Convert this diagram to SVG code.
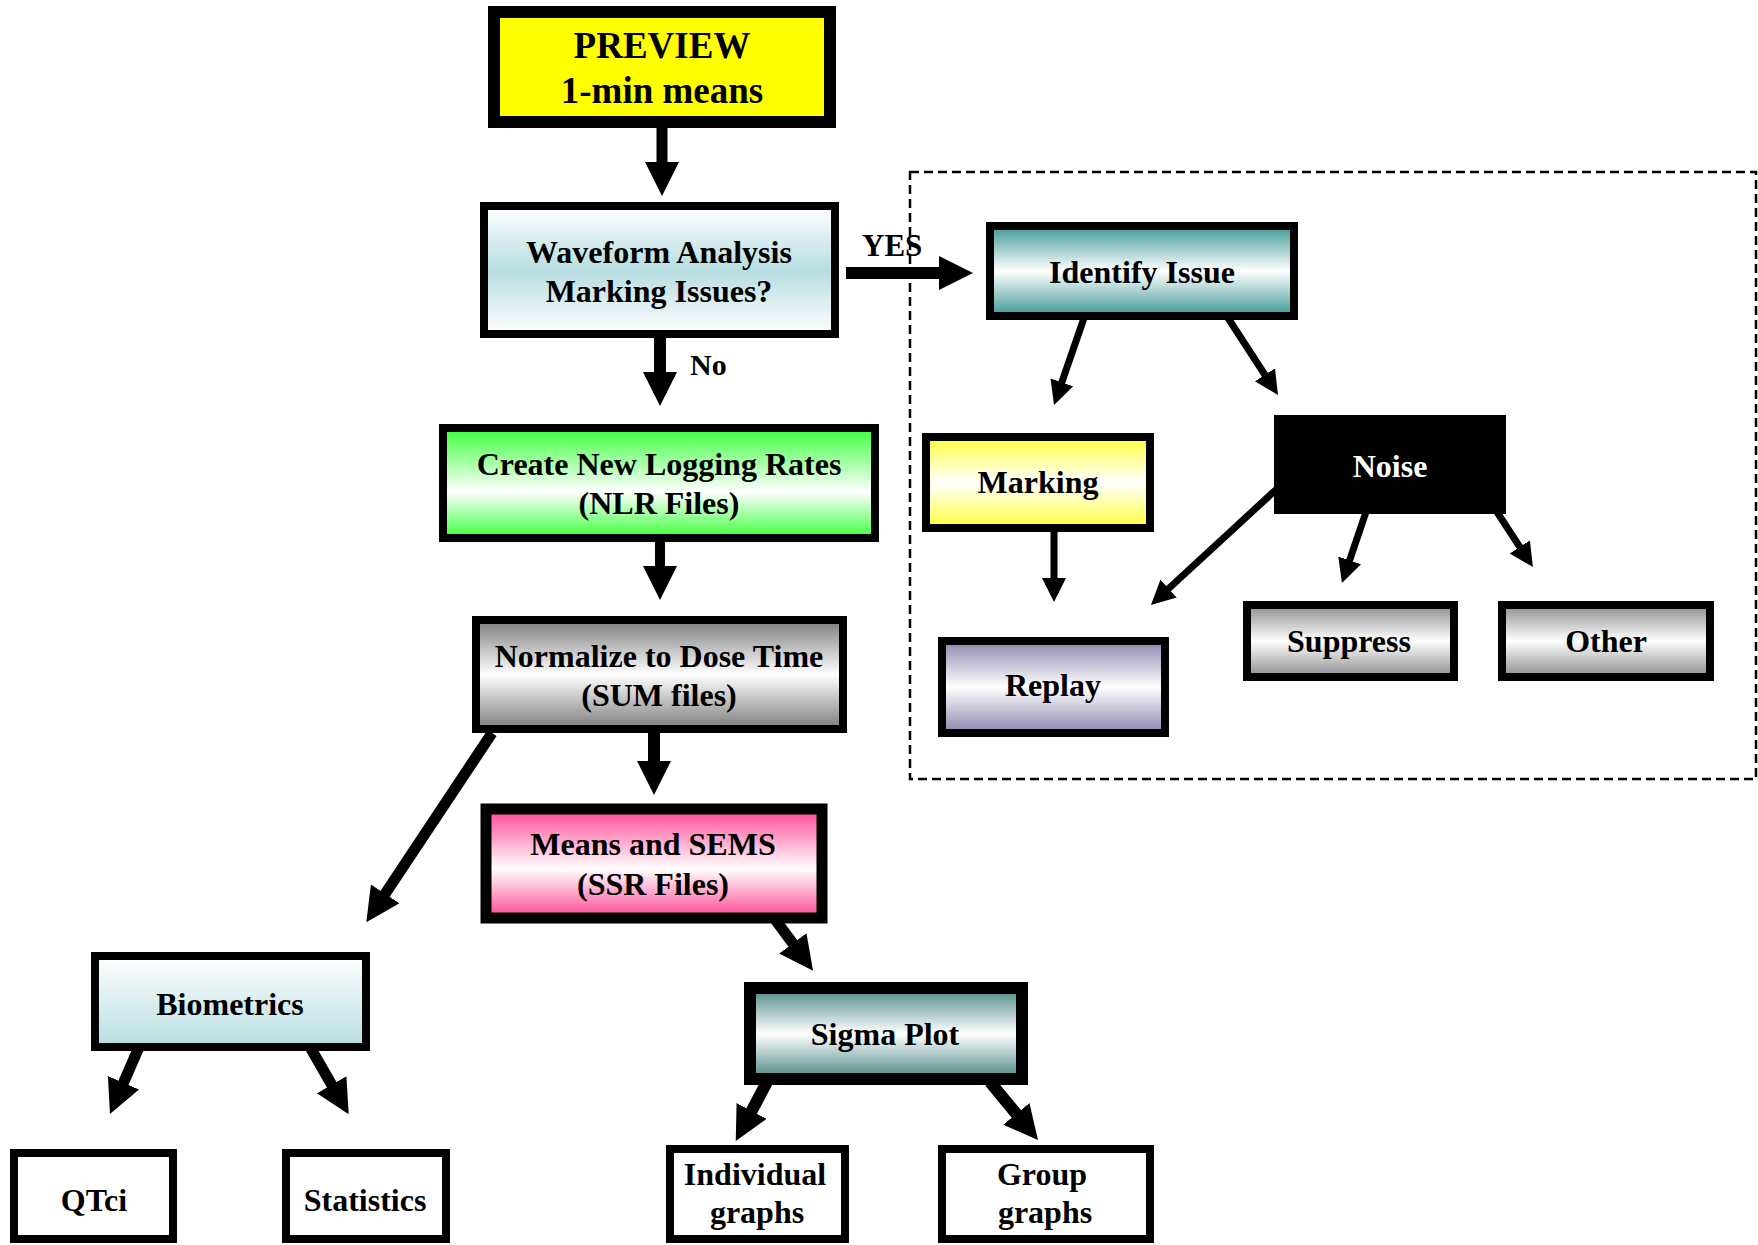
<svg xmlns="http://www.w3.org/2000/svg" width="1758" height="1245" viewBox="0 0 1758 1245">
<style>
.box{stroke:#000;stroke-width:8}
.t{font-family:"Liberation Serif","Times New Roman",serif;font-weight:bold;font-size:32px;text-anchor:middle;fill:#000}
.lbl{font-family:"Liberation Serif","Times New Roman",serif;font-weight:bold;fill:#000}
.c{stroke:#000;fill:none}
.big{stroke-width:11;marker-end:url(#hb)}
.sm{stroke-width:7;marker-end:url(#hs)}
</style>
<defs>
<marker id="hb" markerUnits="userSpaceOnUse" markerWidth="36" markerHeight="36" refX="2" refY="17" orient="auto"><path d="M0,0 L34,17 L0,34 Z" fill="#000"/></marker>
<marker id="hs" markerUnits="userSpaceOnUse" markerWidth="26" markerHeight="26" refX="2" refY="12" orient="auto"><path d="M0,0 L24,12 L0,24 Z" fill="#000"/></marker>
<linearGradient id="gWave" x1="0" y1="0" x2="0" y2="1"><stop offset="0" stop-color="#ffffff"/><stop offset="0.5" stop-color="#b7dde1"/><stop offset="1" stop-color="#ffffff"/></linearGradient>
<linearGradient id="gGreen" x1="0" y1="0" x2="0" y2="1"><stop offset="0" stop-color="#3cff3c"/><stop offset="0.58" stop-color="#ffffff"/><stop offset="1" stop-color="#3cff3c"/></linearGradient>
<linearGradient id="gGray" x1="0" y1="0" x2="0" y2="1"><stop offset="0" stop-color="#7c7c7c"/><stop offset="0.5" stop-color="#ffffff"/><stop offset="1" stop-color="#7c7c7c"/></linearGradient>
<linearGradient id="gPink" x1="0" y1="0" x2="0" y2="1"><stop offset="0" stop-color="#ff4693"/><stop offset="0.55" stop-color="#ffffff"/><stop offset="1" stop-color="#ff4693"/></linearGradient>
<linearGradient id="gBio" x1="0" y1="0" x2="0" y2="1"><stop offset="0" stop-color="#ffffff"/><stop offset="1" stop-color="#b7dde1"/></linearGradient>
<linearGradient id="gTeal" x1="0" y1="0" x2="0" y2="1"><stop offset="0" stop-color="#3d9896"/><stop offset="0.5" stop-color="#ffffff"/><stop offset="1" stop-color="#3d9896"/></linearGradient>
<linearGradient id="gSigma" x1="0" y1="0" x2="0" y2="1"><stop offset="0" stop-color="#4a8684"/><stop offset="0.5" stop-color="#ffffff"/><stop offset="1" stop-color="#4a8684"/></linearGradient>
<linearGradient id="gYel" x1="0" y1="0" x2="0" y2="1"><stop offset="0" stop-color="#ffff3c"/><stop offset="0.5" stop-color="#ffffff"/><stop offset="1" stop-color="#ffff3c"/></linearGradient>
<linearGradient id="gPurp" x1="0" y1="0" x2="0" y2="1"><stop offset="0" stop-color="#8a86ab"/><stop offset="0.5" stop-color="#ffffff"/><stop offset="1" stop-color="#8a86ab"/></linearGradient>
<linearGradient id="gSilver" x1="0" y1="0" x2="0" y2="1"><stop offset="0" stop-color="#8c8c8c"/><stop offset="0.5" stop-color="#ffffff"/><stop offset="1" stop-color="#8c8c8c"/></linearGradient>
</defs>
<rect width="1758" height="1245" fill="#fff"/>

<rect id="issue-region" x="910" y="172" width="846" height="607" fill="none" stroke="#000" stroke-width="2.5" stroke-dasharray="9,5"/>

<g id="connectors">
<line class="c big" x1="662" y1="128" x2="662" y2="164"/>
<line class="c big" x1="660" y1="338" x2="660" y2="374" style="stroke-width:12"/>
<line class="c big" x1="660" y1="542" x2="660" y2="568" style="stroke-width:10"/>
<line class="c big" x1="654" y1="733" x2="654" y2="763" style="stroke-width:12"/>
<line class="c big" x1="846" y1="273" x2="941" y2="273" style="stroke-width:12"/>
<line class="c big" x1="492" y1="733" x2="384" y2="895.5"/>
<line class="c big" x1="774" y1="918" x2="794" y2="945"/>
<line class="c big" x1="139" y1="1047" x2="122.7" y2="1084.6"/>
<line class="c big" x1="310" y1="1047" x2="332.7" y2="1086.4"/>
<line class="c big" x1="768" y1="1080" x2="750.7" y2="1112.7" style="stroke-width:12"/>
<line class="c big" x1="990" y1="1082" x2="1017.6" y2="1115.4" style="stroke-width:12"/>
<line class="c sm" x1="1084" y1="318" x2="1061.2" y2="384.2"/>
<line class="c sm" x1="1228" y1="318" x2="1266" y2="376.5"/>
<line class="c sm" x1="1054" y1="532" x2="1054" y2="580"/>
<line class="c sm" x1="1280" y1="486" x2="1167.1" y2="590"/>
<line class="c sm" x1="1366" y1="512" x2="1349" y2="562.2"/>
<line class="c sm" x1="1497" y1="512" x2="1520.9" y2="548.6"/>
<text class="lbl" x="862" y="256" font-size="31">YES</text>
<text class="lbl" x="690" y="375" font-size="30">No</text>
</g>

<g id="preview">
<rect x="494" y="12" width="336" height="110" fill="#ffff00" stroke="#000" stroke-width="12"/>
<text class="t" x="662" y="58" style="font-size:37px">PREVIEW</text>
<text class="t" x="662" y="103" style="font-size:37px">1-min means</text>
</g>

<g id="waveform">
<rect class="box" x="484" y="206" width="351" height="128" fill="url(#gWave)"/>
<text class="t" x="659" y="263">Waveform Analysis</text>
<text class="t" x="659" y="302">Marking Issues?</text>
</g>

<g id="create-nlr">
<rect class="box" x="443" y="428" width="432" height="110" fill="url(#gGreen)"/>
<text class="t" x="659" y="475">Create New Logging Rates</text>
<text class="t" x="659" y="514">(NLR Files)</text>
</g>

<g id="normalize">
<rect class="box" x="476" y="620" width="367" height="109" fill="url(#gGray)"/>
<text class="t" x="659" y="667">Normalize to Dose Time</text>
<text class="t" x="659" y="706">(SUM files)</text>
</g>

<g id="means">
<rect x="486" y="809" width="336" height="109" fill="url(#gPink)" stroke="#000" stroke-width="11"/>
<text class="t" x="653" y="855">Means and SEMS</text>
<text class="t" x="653" y="895">(SSR Files)</text>
</g>

<g id="biometrics">
<rect class="box" x="95" y="956" width="271" height="91" fill="url(#gBio)"/>
<text class="t" x="230" y="1015">Biometrics</text>
</g>

<g id="qtci">
<rect class="box" x="14" y="1153" width="159" height="86" fill="#fff"/>
<text class="t" x="94" y="1211">QTci</text>
</g>

<g id="statistics">
<rect class="box" x="286" y="1153" width="160" height="86" fill="#fff"/>
<text class="t" x="365" y="1211">Statistics</text>
</g>

<g id="sigma-plot">
<rect x="750" y="988" width="272" height="91" fill="url(#gSigma)" stroke="#000" stroke-width="12"/>
<text class="t" x="885" y="1045">Sigma Plot</text>
</g>

<g id="individual-graphs">
<rect class="box" x="670" y="1149" width="175" height="90" fill="#fff"/>
<text class="t" x="755" y="1185">Individual</text>
<text class="t" x="757" y="1223">graphs</text>
</g>

<g id="group-graphs">
<rect class="box" x="942" y="1149" width="208" height="90" fill="#fff"/>
<text class="t" x="1042" y="1185">Group</text>
<text class="t" x="1045" y="1223">graphs</text>
</g>

<g id="identify-issue">
<rect class="box" x="990" y="226" width="304" height="90" fill="url(#gTeal)"/>
<text class="t" x="1142" y="283">Identify Issue</text>
</g>

<g id="marking">
<rect class="box" x="926" y="437" width="224" height="91" fill="url(#gYel)"/>
<text class="t" x="1038" y="493">Marking</text>
</g>

<g id="noise">
<rect x="1274" y="415" width="232" height="99" fill="#000"/>
<text class="t" x="1390" y="477" style="fill:#fff">Noise</text>
</g>

<g id="replay">
<rect class="box" x="942" y="641" width="223" height="92" fill="url(#gPurp)"/>
<text class="t" x="1053" y="696">Replay</text>
</g>

<g id="suppress">
<rect class="box" x="1247" y="605" width="207" height="72" fill="url(#gSilver)"/>
<text class="t" x="1349" y="652">Suppress</text>
</g>

<g id="other">
<rect class="box" x="1502" y="605" width="208" height="72" fill="url(#gSilver)"/>
<text class="t" x="1606" y="652">Other</text>
</g>
</svg>
